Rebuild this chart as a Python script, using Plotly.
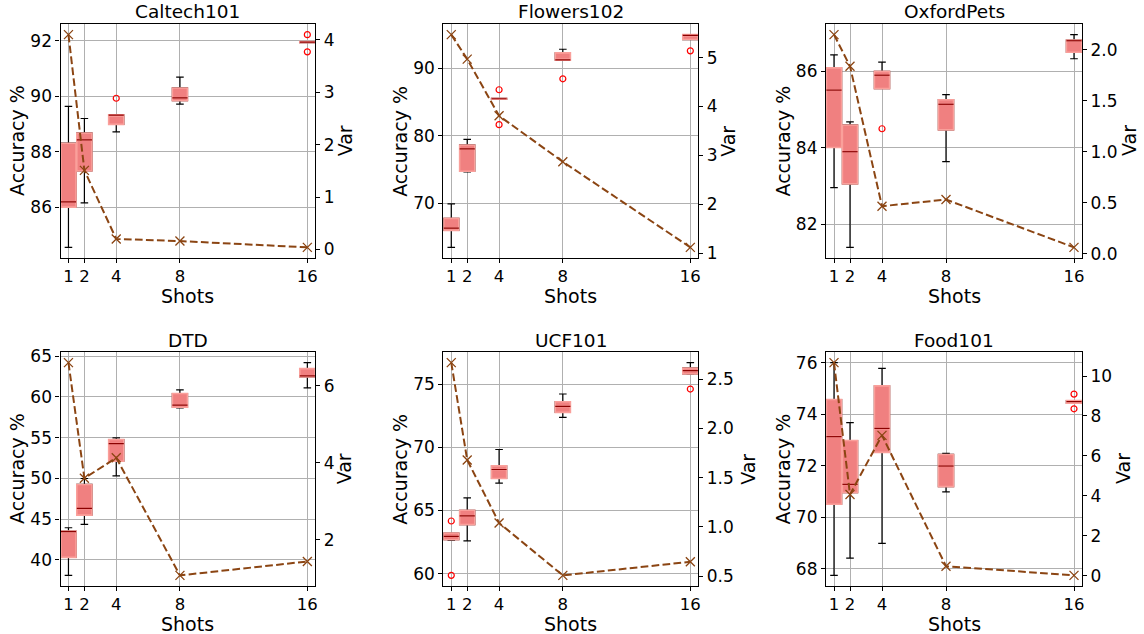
import plotly.graph_objects as go

# ---------------- data ----------------
shots = [1, 2, 4, 8, 16]
datasets = ["Caltech101", "Flowers102", "OxfordPets", "DTD", "UCF101", "Food101"]

# box statistics per dataset (one value per shot)
caltech_q1 = [86.01, 87.31, 88.99, 89.84, 91.93]
caltech_med = [86.20, 88.43, 89.32, 89.94, 91.95]
caltech_q3 = [88.31, 88.68, 89.33, 90.30, 91.97]
caltech_lo = [84.56, 86.16, 88.72, 89.72, 91.93]
caltech_hi = [89.64, 89.20, 89.33, 90.69, 91.97]
caltech_out_x = [4, 16, 16]
caltech_out_y = [89.93, 92.22, 91.60]
caltech_var = [4.10, 1.51, 0.20, 0.16, 0.04]

flowers_q1 = [66.02, 74.77, 85.40, 91.18, 94.23]
flowers_med = [66.36, 78.06, 85.48, 91.23, 94.86]
flowers_q3 = [67.79, 78.65, 85.55, 92.26, 94.96]
flowers_lo = [63.51, 74.67, 85.40, 91.18, 94.23]
flowers_hi = [69.95, 79.48, 85.55, 92.80, 94.96]
flowers_out_x = [4, 4, 8, 16]
flowers_out_y = [86.81, 81.65, 88.43, 92.56]
flowers_var = [5.47, 4.97, 3.81, 2.87, 1.12]

pets_q1 = [84.01, 83.06, 85.55, 84.47, 86.50]
pets_med = [85.51, 83.90, 85.90, 85.14, 86.80]
pets_q3 = [86.09, 84.60, 86.00, 85.26, 86.82]
pets_lo = [82.96, 81.40, 85.55, 83.64, 86.33]
pets_hi = [86.43, 84.68, 86.24, 85.39, 86.96]
pets_out_x = [4]
pets_out_y = [84.50]
pets_var = [2.15, 1.84, 0.466, 0.531, 0.062]

dtd_q1 = [40.29, 45.48, 52.11, 58.74, 62.46]
dtd_med = [43.45, 46.30, 54.28, 58.99, 62.59]
dtd_q3 = [43.52, 49.25, 54.77, 60.42, 63.49]
dtd_lo = [38.08, 44.34, 50.31, 58.66, 61.11]
dtd_hi = [43.93, 49.98, 54.98, 60.87, 64.22]
dtd_out_x = []
dtd_out_y = []
dtd_var = [6.60, 3.60, 4.13, 1.08, 1.44]

ucf_q1 = [62.69, 63.88, 67.53, 72.76, 75.79]
ucf_med = [62.96, 64.57, 68.24, 73.23, 76.06]
ucf_q3 = [63.22, 65.02, 68.53, 73.60, 76.27]
ucf_lo = [62.64, 62.59, 67.16, 72.36, 75.77]
ucf_hi = [63.22, 66.00, 69.82, 74.21, 76.69]
ucf_out_x = [1, 1, 16]
ucf_out_y = [64.17, 59.87, 74.60]
ucf_var = [2.67, 1.68, 1.04, 0.507, 0.645]

food_q1 = [70.51, 70.96, 72.52, 71.19, 74.43]
food_med = [73.13, 71.28, 73.45, 71.99, 74.49]
food_q3 = [74.57, 72.98, 75.10, 72.44, 74.53]
food_lo = [67.75, 68.42, 68.99, 70.99, 74.43]
food_hi = [76.00, 73.67, 75.78, 72.48, 74.53]
food_out_x = [16, 16]
food_out_y = [74.78, 74.21]
food_var = [10.67, 4.07, 7.03, 0.48, 0.02]

# axis tick values / labels
acc_ticks = [
    [86, 88, 90, 92],
    [70, 80, 90],
    [82, 84, 86],
    [40, 45, 50, 55, 60, 65],
    [60, 65, 70, 75],
    [68, 70, 72, 74, 76],
]
var_ticks = [
    [0, 1, 2, 3, 4],
    [1, 2, 3, 4, 5],
    [0.0, 0.5, 1.0, 1.5, 2.0],
    [2, 4, 6],
    [0.5, 1.0, 1.5, 2.0, 2.5],
    [0, 2, 4, 6, 8, 10],
]
var_tick_text = [
    ["0", "1", "2", "3", "4"],
    ["1", "2", "3", "4", "5"],
    ["0.0", "0.5", "1.0", "1.5", "2.0"],
    ["2", "4", "6"],
    ["0.5", "1.0", "1.5", "2.0", "2.5"],
    ["0", "2", "4", "6", "8", "10"],
]

panels = [
    (caltech_q1, caltech_med, caltech_q3, caltech_lo, caltech_hi, caltech_out_x, caltech_out_y, caltech_var),
    (flowers_q1, flowers_med, flowers_q3, flowers_lo, flowers_hi, flowers_out_x, flowers_out_y, flowers_var),
    (pets_q1, pets_med, pets_q3, pets_lo, pets_hi, pets_out_x, pets_out_y, pets_var),
    (dtd_q1, dtd_med, dtd_q3, dtd_lo, dtd_hi, dtd_out_x, dtd_out_y, dtd_var),
    (ucf_q1, ucf_med, ucf_q3, ucf_lo, ucf_hi, ucf_out_x, ucf_out_y, ucf_var),
    (food_q1, food_med, food_q3, food_lo, food_hi, food_out_x, food_out_y, food_var),
]

# ---------------- styling / geometry ----------------
W, H = 1144, 634
col_px = [(60.5, 315.3), (443.3, 698.3), (826.0, 1082.0)]
row_px = [(24.0, 258.0), (352.0, 586.0)]
var_label_offset = [30, 29.5, 47, 29, 49.5, 41]

FONT = "DejaVu Sans"
BOX_FILL = "rgb(240,128,128)"
BOX_EDGE = "rgb(250,160,155)"
MEDIAN = "rgb(139,0,0)"
LINE = "rgb(139,69,19)"
GRID = "#b0b0b0"
BOX_W = 0.95


def padded(lo, hi, frac=0.05):
    span = hi - lo
    return [lo - frac * span, hi + frac * span]


fig = go.Figure()
layout = dict(
    width=W, height=H,
    margin=dict(l=0, r=0, t=0, b=0),
    paper_bgcolor="white", plot_bgcolor="white",
    showlegend=False, boxmode="overlay",
    font=dict(family=FONT, color="black"),
)
annotations = []

for i, (q1, med, q3, lo, hi, ox, oy, var) in enumerate(panels):
    n = i + 1
    r, c = divmod(i, 3)
    x0, x1 = col_px[c]
    yt, yb = row_px[r]
    xdom = [x0 / W, x1 / W]
    ydom = [1 - yb / H, 1 - yt / H]
    xa = "x" if n == 1 else f"x{n}"
    ya = "y" if n == 1 else f"y{n}"
    ya2 = f"y{n + 6}"

    # whiskers + caps (black)
    fig.add_trace(go.Box(
        x=shots, q1=q1, median=med, q3=q3, lowerfence=lo, upperfence=hi,
        width=BOX_W, whiskerwidth=0.5, line=dict(color="black", width=1.2),
        fillcolor="rgba(0,0,0,0)", boxpoints=False, xaxis=xa, yaxis=ya,
    ))
    # filled boxes
    fig.add_trace(go.Box(
        x=shots, q1=q1, median=med, q3=q3, lowerfence=q1, upperfence=q3,
        width=BOX_W, whiskerwidth=0, line=dict(color=BOX_EDGE, width=1.6),
        fillcolor=BOX_FILL, boxpoints=False, xaxis=xa, yaxis=ya,
    ))
    # medians
    fig.add_trace(go.Scatter(
        x=shots, y=med, mode="markers",
        marker=dict(symbol="line-ew", size=10.8, line=dict(color=MEDIAN, width=1.2)),
        xaxis=xa, yaxis=ya,
    ))
    # outliers
    if ox:
        fig.add_trace(go.Scatter(
            x=ox, y=oy, mode="markers",
            marker=dict(symbol="circle-open", size=6, color="red", line=dict(color="red", width=1.2)),
            xaxis=xa, yaxis=ya,
        ))
    # variance curve on the secondary axis
    fig.add_trace(go.Scatter(
        x=shots, y=var, mode="lines+markers",
        line=dict(color=LINE, width=2, dash="7.7px,3.3px"),
        marker=dict(symbol="x-thin-open", size=9, line=dict(color=LINE, width=1.3)),
        xaxis=xa, yaxis=ya2,
    ))

    acc_vals = lo + hi + list(oy)
    acc_range = padded(min(acc_vals), max(acc_vals))
    var_range = padded(min(var), max(var))

    axis_common = dict(
        showline=True, linecolor="black", linewidth=1.2,
        ticks="outside", ticklen=4, tickwidth=1, tickcolor="black",
        tickfont=dict(family=FONT, size=17, color="black"),
        zeroline=False, automargin=False,
    )
    x_axis = dict(axis_common)
    x_axis["ticklen"] = 3.5
    x_axis["tickfont"] = dict(family=FONT, size=16.5, color="black")
    layout["xaxis" if n == 1 else f"xaxis{n}"] = dict(
        domain=xdom, anchor=ya, range=[0.5, 16.5],
        tickvals=shots, ticktext=[str(s) for s in shots],
        showgrid=True, gridcolor=GRID, gridwidth=1, mirror=True,
        **x_axis,
    )
    layout["yaxis" if n == 1 else f"yaxis{n}"] = dict(
        domain=ydom, anchor=xa, range=acc_range,
        tickvals=acc_ticks[i], ticktext=[str(v) for v in acc_ticks[i]],
        showgrid=True, gridcolor=GRID, gridwidth=1, mirror=True,
        **axis_common,
    )
    layout[f"yaxis{n + 6}"] = dict(
        overlaying=ya, side="right", anchor=xa, range=var_range,
        tickvals=var_ticks[i], ticktext=var_tick_text[i],
        showgrid=False,
        **axis_common,
    )

    xc = (x0 + x1) / 2 / W
    yc = 1 - (yt + yb) / 2 / H
    annotations += [
        dict(text=datasets[i], x=xc, y=1 - (yt - 12) / H, xref="paper", yref="paper",
             showarrow=False, font=dict(family=FONT, size=18.5, color="black"),
             xanchor="center", yanchor="middle"),
        dict(text="Shots", x=xc, y=1 - (yb + 38) / H, xref="paper", yref="paper",
             showarrow=False, font=dict(family=FONT, size=19, color="black"),
             xanchor="center", yanchor="middle"),
        dict(text="Accuracy %", x=(x0 - 43.5) / W, y=yc, xref="paper", yref="paper",
             showarrow=False, textangle=-90, font=dict(family=FONT, size=19, color="black"),
             xanchor="center", yanchor="middle"),
        dict(text="Var", x=(x1 + var_label_offset[i]) / W, y=yc, xref="paper", yref="paper",
             showarrow=False, textangle=-90, font=dict(family=FONT, size=19, color="black"),
             xanchor="center", yanchor="middle"),
    ]

layout["annotations"] = annotations
fig.update_layout(**layout)
fig.write_html("out.html")
